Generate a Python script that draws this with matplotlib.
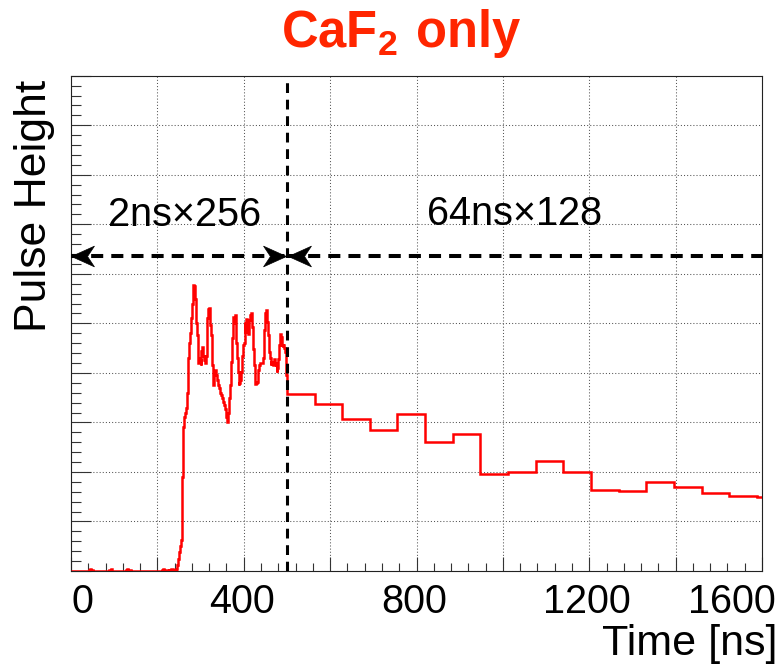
import numpy as np
import matplotlib
matplotlib.use("Agg")
import matplotlib.pyplot as plt
from matplotlib.ticker import MultipleLocator
from matplotlib.transforms import ScaledTranslation

plt.rcParams['font.family'] = ['Liberation Sans', 'DejaVu Sans']
plt.rcParams['mathtext.fontset'] = 'custom'
plt.rcParams['mathtext.rm'] = 'Liberation Sans:bold'

# fast sampling region: 2 ns bins from 0 to 500 ns
fast_bin_width = 2
fast_values = [
    0, 0, 0, 0, 0, 0, 0, 0, 0, 0,
    0, 0, 0, 0, 0, 0, 0, 0, 0, 0,
    0.01, 0.03, 0.04, 0.03, 0.02, 0.03, 0.01, 0, 0, 0,
    0, 0, 0, 0, 0, 0, 0, 0, 0, 0,
    0, 0, 0, 0.01, 0.03, 0.02, 0.04, 0.03, 0.01, 0,
    0, 0, 0, 0, 0, 0, 0, 0, 0, 0,
    0, 0, 0, 0, 0.02, 0.04, 0.03, 0.03, 0.02, 0.01,
    0.01, 0, 0, 0, 0, 0, 0, 0, 0, 0,
    0, 0, 0, 0, 0, 0, 0, 0, 0, 0,
    0, 0, 0, 0, 0, 0, 0, 0, 0, 0,
    0, 0, 0, 0, 0, 0.02, 0.03, 0.04, 0.03, 0.02,
    0.03, 0.02, 0.03, 0.05, 0.03, 0.02, 0.04, 0.05, 0.02, 0.01,
    0.01, 0.02, 0.05, 0.12, 0.25, 0.39, 0.50, 0.63, 1.30, 1.90,
    2.91, 3.10, 3.19, 3.30, 3.60, 4.05, 4.30, 4.60, 4.80, 5.10,
    5.40, 5.77, 5.75, 5.56, 5.50, 5.00, 4.76, 4.19, 4.30, 4.25,
    4.15, 4.45, 4.52, 4.35, 4.25, 4.19, 4.35, 4.76, 5.10, 5.28,
    5.30, 4.96, 4.76, 4.15, 3.75, 3.85, 3.95, 4.05, 3.95, 3.85,
    3.75, 3.70, 3.62, 3.60, 3.55, 3.50, 3.41, 3.35, 3.28, 3.21,
    3.10, 3.01, 3.20, 3.50, 3.75, 4.22, 4.70, 5.00, 5.13, 5.00,
    5.16, 4.60, 4.30, 4.02, 3.75, 3.80, 3.85, 4.02, 4.35, 4.56,
    4.60, 5.03, 4.82, 5.09, 4.90, 4.79, 5.06, 5.16, 5.20, 5.10,
    4.93, 4.49, 4.15, 3.78, 3.80, 3.82, 3.95, 4.05, 4.15, 4.19,
    4.19, 4.19, 4.30, 4.42, 4.86, 5.20, 5.26, 5.03, 4.76, 4.42,
    4.30, 4.15, 4.22, 4.20, 4.15, 4.29, 4.20, 4.15, 4.02, 4.10,
    4.29, 4.56, 4.79, 4.72, 4.56, 4.52, 4.56, 4.50, 4.42, 3.95,
]

# slow sampling region: 64 ns bins starting at 500 ns
slow_start = 500
slow_bin_width = 64
slow_values = [3.57, 3.37, 3.06, 2.84, 3.16, 2.61, 2.76, 1.95, 1.99,
               2.22, 2.00, 1.64, 1.62, 1.79, 1.69, 1.57, 1.51, 1.49]

x_label_ticks = [0, 400, 800, 1200, 1600]
x_tick_labels = ['0', '400', '800', '1200', '1600']
region_labels = ['2ns\u00d7256', '64ns\u00d7128']

fig = plt.figure(figsize=(7.83, 6.66), dpi=100)
ax = fig.add_axes([71 / 783, 1 - 571 / 666, 691 / 783, 495.3 / 666])

fast_edges = np.arange(len(fast_values) + 1) * fast_bin_width
slow_edges = slow_start + np.arange(len(slow_values) + 1) * slow_bin_width
edges = np.concatenate([fast_edges, slow_edges[1:]])
values = np.array(fast_values + slow_values)
ax.stairs(values, edges, baseline=None, color='#ff0000', linewidth=1.8, zorder=3)

ax.set_xlim(0, 1600)
ax.set_ylim(0, 10)

# ROOT-like frame, ticks and dotted grid
ax.xaxis.set_major_locator(MultipleLocator(200))
ax.xaxis.set_minor_locator(MultipleLocator(40))
ax.yaxis.set_major_locator(MultipleLocator(1))
ax.yaxis.set_minor_locator(MultipleLocator(0.2))
majors = np.arange(0, 1601, 200)
ax.set_xticks(majors)
ax.set_xticklabels([x_tick_labels[x_label_ticks.index(m)] if m in x_label_ticks else '' for m in majors])
ax.set_yticklabels([])
ax.tick_params(axis='x', which='major', direction='in', length=10, width=0.8, color='#333333',
               labelsize=28.5, pad=8.5)
ax.tick_params(axis='x', which='minor', direction='in', length=5.5, width=0.8, color='#333333')
ax.tick_params(axis='y', which='major', direction='in', length=14.4, width=0.8, color='#333333')
ax.tick_params(axis='y', which='minor', direction='in', length=7.2, width=0.8, color='#333333')
for s in ax.spines.values():
    s.set_linewidth(0.8)
    s.set_color('#222222')
ax.grid(True, which='major', color='#555555', linestyle=(0, (1, 2)), linewidth=0.75)
ax.set_axisbelow(True)

# shift edge tick labels like the ROOT output
labels = [lab for lab in ax.get_xticklabels() if lab.get_text()]
for lab in labels:
    dx = -2
    if lab.get_text() == '0':
        dx = 11
    elif lab.get_text() == '1600':
        dx = -30
    lab.set_transform(lab.get_transform() + ScaledTranslation(dx / 100, 0, fig.dpi_scale_trans))

# boundary between sampling regions
ax.axvline(slow_start, color='black', linestyle=(0, (3.2, 2.2)), linewidth=2.2, zorder=4)

# double arrows
arrow_y = 6.35
gap = 3
ax.plot([0, slow_start - gap], [arrow_y, arrow_y], color='black', linewidth=2.9,
        linestyle=(0, (3, 2)), zorder=4)
ax.plot([slow_start + gap, 1600], [arrow_y, arrow_y], color='black', linewidth=2.9,
        linestyle=(0, (3, 2)), zorder=4)
head_left = [(0, 0), (1, 0.45), (0.7, 0), (1, -0.45), (0, 0)]
head_right = [(-x, y) for x, y in head_left]
for xpos, head in [(0, head_left), (slow_start - gap, head_right), (slow_start + gap, head_left)]:
    ax.plot([xpos], [arrow_y], marker=head, markersize=33, color='black',
            markeredgewidth=0.5, clip_on=False, zorder=5)

ax.text(264, 6.96, region_labels[0], fontsize=28.5, ha='center', va='baseline')
ax.text(1028, 6.98, region_labels[1], fontsize=28.5, ha='center', va='baseline')

fig.text(401 / 783, 1 - 47.3 / 666, r'$\mathrm{CaF_2\ only}$', fontsize=36.5,
         color='#ff2600', ha='center', va='baseline')
fig.text(777 / 783, 1 - 655 / 666, 'Time [ns]', fontsize=31, ha='right', va='baseline')
fig.text(35 / 783, 1 - 80 / 666, 'Pulse Height', fontsize=32, rotation=90,
         ha='center', va='top')

fig.savefig('out.png', dpi=100)
